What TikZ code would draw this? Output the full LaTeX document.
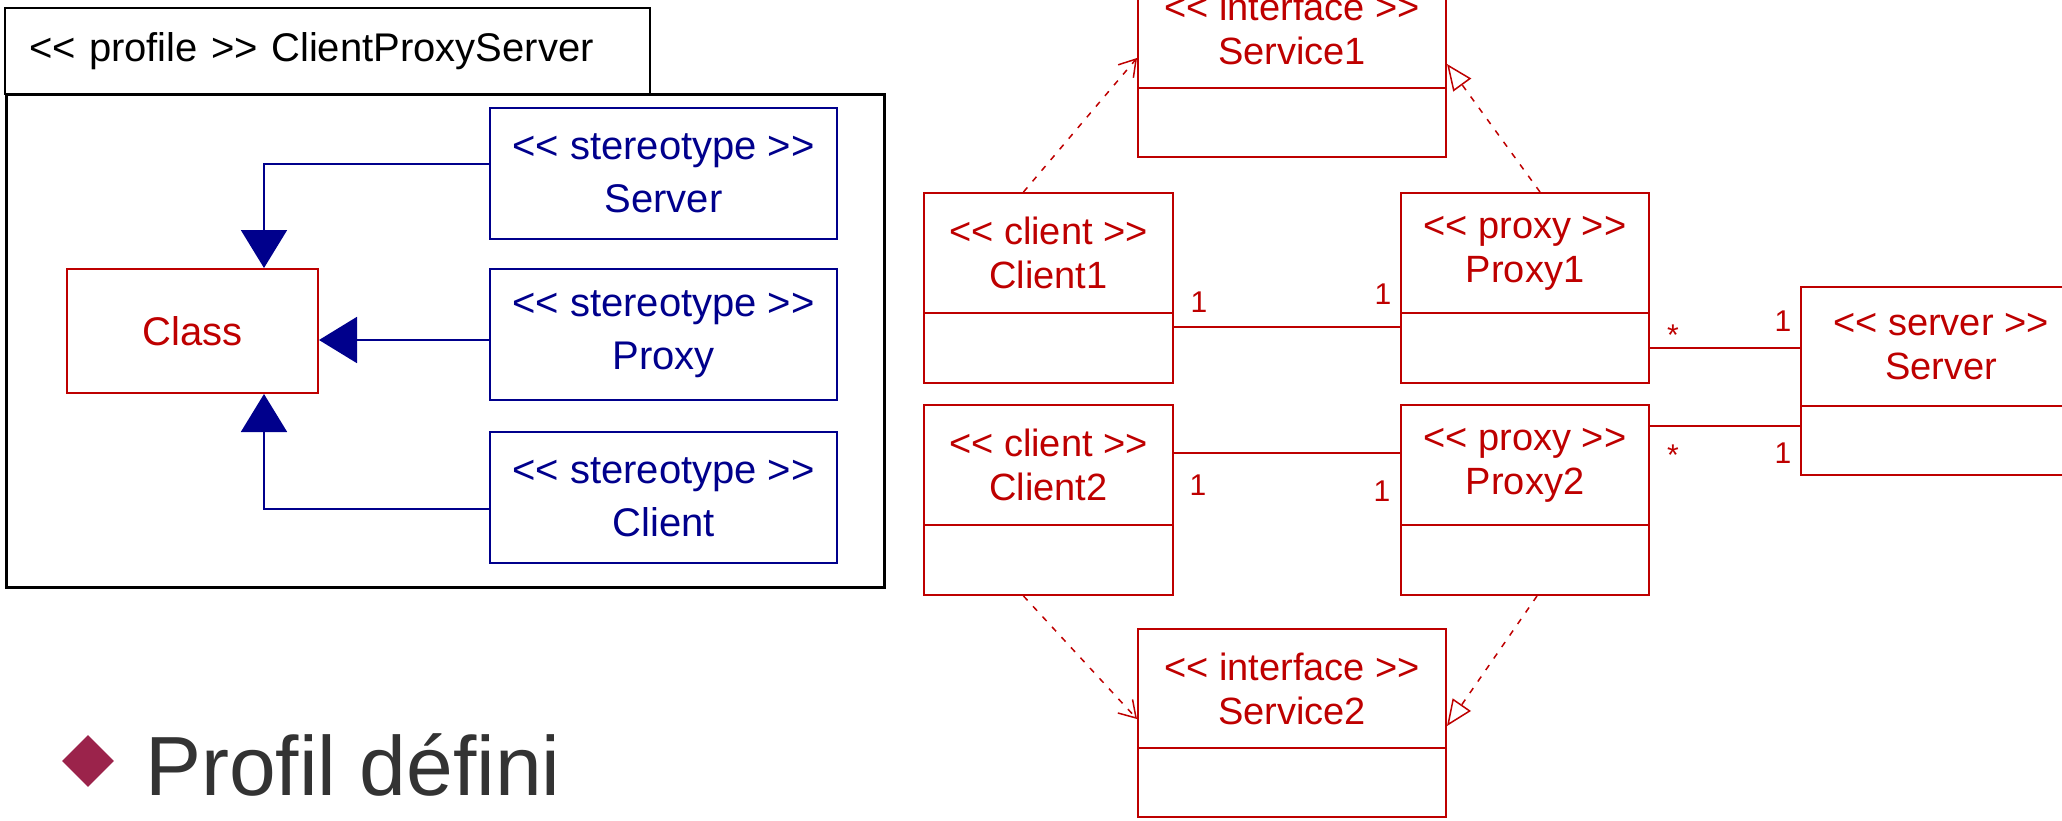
\documentclass[tikz,border=0pt]{standalone}
\usepackage{fontspec}
\setmainfont{Liberation Sans}[Ligatures=TeXOff]
\usetikzlibrary{arrows.meta,shapes.geometric}
\definecolor{umlblue}{RGB}{0,0,140}
\definecolor{umlred}{RGB}{190,0,0}
\definecolor{bulletred}{RGB}{155,35,75}
\definecolor{textgray}{RGB}{51,51,51}

\begin{document}
\begin{tikzpicture}[x=1pt,y=-1pt,
  stereo/.style={draw=umlblue, line width=2pt, text=umlblue, minimum width=347pt, minimum height=131pt, align=center, font=\fontsize{40}{53}\selectfont},
  cls/.style={draw=umlred, line width=2pt, text=umlred, align=center, font=\fontsize{38}{44}\selectfont},
  mult/.style={text=umlred, inner sep=0pt, font=\fontsize{30}{30}\selectfont},
  gen/.style={draw=umlblue, line width=2pt, -{Triangle[length=38pt,width=46pt]}},
  dep/.style={draw=umlred, line width=1.5pt, dash pattern=on 6pt off 8pt, -{Straight Barb[length=16pt,width=20pt]}},
  real/.style={draw=umlred, line width=1.5pt, dash pattern=on 6pt off 8pt, -{Triangle[open,length=26pt,width=22pt,fill=white]}}]
\useasboundingbox (0,0) rectangle (2062,820);
\clip (0,0) rectangle (2062,820);

% profile
\path (327.5,51) node (tab) [draw, line width=2.5pt, text width=597pt, inner xsep=24pt, minimum height=86pt, align=left, font=\fontsize{40}{48}\selectfont] {<< profile >> ClientProxyServer};
\path (445,340.5) node (frame) [draw, line width=3pt, minimum width=878pt, minimum height=493pt] {};

\path (663.5,173.5) node (stS) [stereo] {<< stereotype >>\\Server};
\path (663.5,334.5) node (stP) [stereo] {<< stereotype >>\\Proxy};
\path (663.5,497.5) node (stC) [stereo] {<< stereotype >>\\Client};
\path (192.5,331) node (Class) [cls, minimum width=251pt, minimum height=124pt, font=\fontsize{40}{48}\selectfont] {Class};

\coordinate (pk) at ([yshift=-9pt]Class.east);
\draw [gen] ([yshift=10pt]stS.west) -| ([xshift=-55pt]Class.north east);
\draw [gen] (stP.west |- pk) -- (pk);
\draw [gen] ([yshift=-11.5pt]stC.west) -| ([xshift=-55pt]Class.south east);

% classes
\path (1048.5,253) node (C1) [cls, minimum width=249pt, minimum height=120pt] {<< client >>\\Client1};
\path (1048.5,348) node (C1b) [cls, minimum width=249pt, minimum height=70pt] {};
\path (1525,253) node (P1) [cls, minimum width=248pt, minimum height=120pt] {<< proxy >>\\Proxy1};
\path (1525,348) node (P1b) [cls, minimum width=248pt, minimum height=70pt] {};
\path (1048.5,465) node (C2) [cls, minimum width=249pt, minimum height=120pt] {<< client >>\\Client2};
\path (1048.5,560) node (C2b) [cls, minimum width=249pt, minimum height=70pt] {};
\path (1525,465) node (P2) [cls, minimum width=248pt, minimum height=120pt] {<< proxy >>\\Proxy2};
\path (1525,560) node (P2b) [cls, minimum width=248pt, minimum height=70pt] {};

\path (1292,28.5) node (S1) [cls, minimum width=308pt, minimum height=119pt] {<< interface >>\\Service1};
\path (1292,122.5) node (S1b) [cls, minimum width=308pt, minimum height=69pt] {};
\path (1292,688.5) node (S2) [cls, minimum width=308pt, minimum height=119pt] {<< interface >>\\Service2};
\path (1292,782.5) node (S2b) [cls, minimum width=308pt, minimum height=69pt] {};
\path (1941,346.5) node (Srv) [cls, minimum width=280pt, minimum height=119pt] {<< server >>\\Server};
\path (1941,440.5) node (Srvb) [cls, minimum width=280pt, minimum height=69pt] {};

\draw [umlred, line width=2pt] ([yshift=21pt]C1b.east) -- ([yshift=21pt]P1b.west);
\draw [umlred, line width=2pt] ([yshift=12pt]C2.east) -- ([yshift=12pt]P2.west);
\draw [umlred, line width=2pt] (P1b.east) -- (P1b.east -| Srv.west);
\coordinate (k2) at ([yshift=14.5pt]Srvb.west);
\draw [umlred, line width=2pt] (P2.east |- k2) -- (k2);

\path (1199,302) node (m1) [mult] {1};
\path (1383,294) node (m2) [mult] {1};
\path (1198,485) node (m3) [mult] {1};
\path (1382,491) node (m4) [mult] {1};
\path (1673,335) node (m5) [mult] {*};
\path (1783,321) node (m6) [mult] {1};
\path (1673,455) node (m7) [mult] {*};
\path (1783,453) node (m8) [mult] {1};

\draw [dep] ([xshift=-25pt]C1.north) -- ([yshift=31pt]S1.south west);
\draw [real] ([xshift=15pt]P1.north) -- ([yshift=25pt]S1.south east);
\draw [dep] ([xshift=-25pt]C2b.south) -- ([yshift=30pt]S2.south west);
\draw [real] ([xshift=12pt]P2b.south) -- ([yshift=23pt]S2.south east);

% bullet
\path (88,761) node (bul) [diamond, fill=bulletred, minimum size=52pt, inner sep=0pt] {};
\path (145,795) node (note) [anchor=base west, inner sep=0pt, text=textgray, font=\fontsize{84}{90}\selectfont] {Profil défini};

\end{tikzpicture}
\end{document}
